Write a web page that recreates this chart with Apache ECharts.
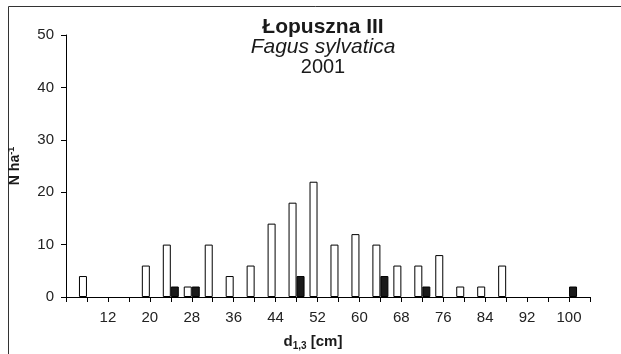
<!DOCTYPE html>
<html>
<head>
<meta charset="utf-8">
<title>Łopuszna III - Fagus sylvatica 2001</title>
<script src="https://cdn.jsdelivr.net/npm/echarts@6/dist/echarts.min.js"></script>
<style>
  html, body { margin: 0; padding: 0; background: #fff; }
  #chart { width: 621px; height: 354px; }
</style>
</head>
<body>
<div id="chart"></div>
<script>
// klasy pierśnicy d1,3 [cm]
var categories = ['4', '8', '12', '16', '20', '24', '28', '32', '36', '40', '44', '48', '52',
                  '56', '60', '64', '68', '72', '76', '80', '84', '88', '92', '96', '100', '104'];
// słupki białe (N/ha)
var whiteVals = [0, 4, 0, 0, 6, 10, 2, 10, 4, 6, 14, 18, 22,
                 10, 12, 10, 6, 6, 8, 2, 2, 6, 0, 0, 0, 0];
// słupki czarne (N/ha)
var blackVals = [0, 0, 0, 0, 0, 2, 2, 0, 0, 0, 0, 4, 0,
                 0, 0, 4, 0, 2, 0, 0, 0, 0, 0, 0, 2, 0];
var yTicks = [0, 10, 20, 30, 40, 50];

var myChart = echarts.init(document.getElementById('chart'));

var font = 'Liberation Sans, Arial, sans-serif';

// zera nie rysujemy (w oryginale brak kresek na osi)
function noZero(arr) {
    return arr.map(function (v) { return v === 0 ? null : v; });
}

var option = {
    animation: false,
    backgroundColor: '#fff',
    textStyle: { fontFamily: font },
    title: {
        left: 318,
        top: 12,
        textAlign: 'center',
        text: '{a|Łopuszna III}\n{b|Fagus sylvatica}\n{c|2001}',
        textStyle: {
            rich: {
                a: { fontFamily: font, fontSize: 21, fontWeight: 'bold', color: '#1a1a1a', lineHeight: 20, align: 'center' },
                b: { fontFamily: font, fontSize: 21, fontWeight: 'normal', fontStyle: 'italic', color: '#1a1a1a', lineHeight: 20, align: 'center' },
                c: { fontFamily: font, fontSize: 20, fontWeight: 'normal', color: '#1a1a1a', lineHeight: 20, align: 'center' }
            }
        }
    },
    graphic: [{
        type: 'rect',
        shape: { x: 8.5, y: 6.5, width: 700, height: 400 },
        style: { fill: 'none', stroke: '#333', lineWidth: 1 },
        silent: true
    }],
    grid: {
        left: 66,
        right: 31,
        top: 35,
        bottom: 57,
        outerBoundsMode: 'none'
    },
    xAxis: {
        type: 'category',
        data: categories,
        boundaryGap: false,
        name: '{d|d}{s|1,3}{d| [cm]}',
        nameLocation: 'middle',
        nameGap: 35,
        nameTextStyle: {
            padding: [0, 30, 0, 0],
            rich: {
                d: { fontFamily: font, fontSize: 15, fontWeight: 'bold', color: '#1a1a1a' },
                s: { fontFamily: font, fontSize: 10, fontWeight: 'bold', color: '#1a1a1a', padding: [9, 0, 0, 0] }
            }
        },
        axisLine: { lineStyle: { color: '#000', width: 1 } },
        axisTick: { show: true, interval: 0, inside: false, length: 5, lineStyle: { color: '#000' } },
        axisLabel: {
            interval: function (index) { return index > 0 && index % 2 === 0; },
            margin: 13,
            fontSize: 15,
            color: '#222',
            fontFamily: font
        },
        splitLine: { show: false }
    },
    yAxis: {
        type: 'value',
        min: yTicks[0],
        max: yTicks[yTicks.length - 1],
        interval: 10,
        name: '{n|N ha}{p|-1}',
        nameLocation: 'middle',
        nameRotate: 90,
        nameGap: 42,
        nameTextStyle: {
            rich: {
                n: { fontFamily: font, fontSize: 14, fontWeight: 'bold', color: '#1a1a1a' },
                p: { fontFamily: font, fontSize: 9, fontWeight: 'bold', color: '#1a1a1a', padding: [0, 0, 8, 0] }
            }
        },
        axisLine: { show: true, lineStyle: { color: '#000', width: 1 } },
        axisTick: { show: true, length: 5, lineStyle: { color: '#000' } },
        axisLabel: { margin: 12, fontSize: 15, color: '#222', fontFamily: font },
        splitLine: { show: false }
    },
    series: [
        {
            name: 'white',
            type: 'bar',
            data: noZero(whiteVals),
            barWidth: 8,
            barGap: '0%',
            itemStyle: { color: '#fff', borderColor: '#000', borderWidth: 1 }
        },
        {
            name: 'black',
            type: 'bar',
            data: noZero(blackVals),
            barWidth: 8,
            itemStyle: { color: '#1a1a1a', borderColor: '#000', borderWidth: 1 }
        }
    ]
};

myChart.setOption(option);
</script>
</body>
</html>
